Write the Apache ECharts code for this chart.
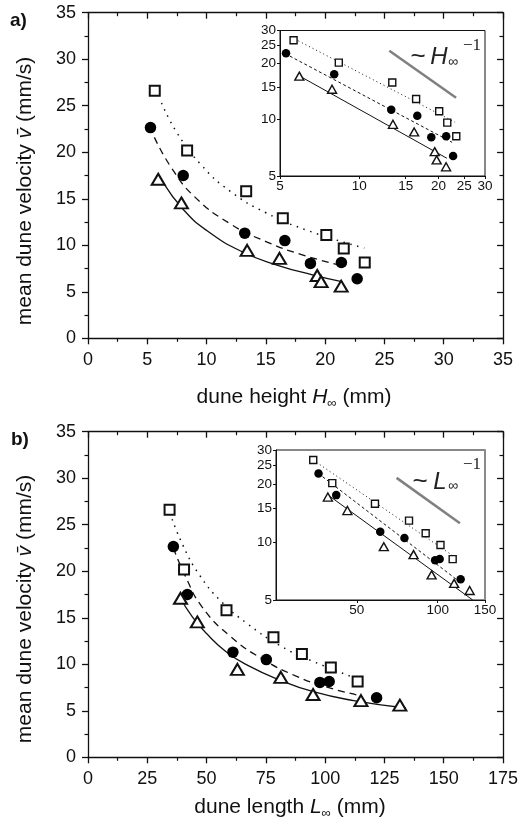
<!DOCTYPE html>
<html>
<head>
<meta charset="utf-8">
<script src="https://cdn.jsdelivr.net/npm/echarts@6/dist/echarts.min.js"></script>
<style>
  html, body { margin: 0; padding: 0; background: #fff; }
  #chart { width: 526px; height: 831px; }
</style>
</head>
<body>
<div id="chart"></div>
<script>
// mean dune velocity (mm/s), same order in both panels
var velSquare = [26.6, 20.2, 15.8, 12.9, 11.1, 9.65, 8.15];
var velCircle = [22.65, 17.5, 11.3, 10.5, 8.05, 8.15, 6.4];
var velTriangle = [17.1, 14.55, 9.45, 8.6, 6.75, 6.1, 5.6];

// dune height H (mm), panel a
var heightSquare = [5.63, 8.36, 13.34, 16.43, 20.1, 21.57, 23.34];
var heightCircle = [5.27, 8.03, 13.22, 16.6, 18.76, 21.37, 22.7];
var heightTriangle = [5.92, 7.88, 13.42, 16.15, 19.33, 19.66, 21.35];

// dune length L (mm), panel b
var lengthSquare = [34.4, 40.5, 58.4, 78.2, 90.2, 102.4, 113.7];
var lengthCircle = [36, 41.9, 61.1, 75.2, 97.8, 101.7, 121.7];
var lengthTriangle = [39, 46.1, 63, 81.3, 94.9, 115.1, 131.5];

// fit curves
var fitDotA_H = [6.2, 7.5, 9.5, 12, 15, 18.5, 23.3];
var fitDotA_v = [25.3, 22.1, 18.7, 15.8, 13.5, 11.6, 9.7];
var fitDashA_H = [5.6, 7, 9, 12, 15, 18, 21.7];
var fitDashA_v = [21.6, 18.4, 15.2, 12.3, 10.4, 9.0, 7.7];
var fitSolidA_H = [6.35, 8, 10, 13, 16, 19, 21.4];
var fitSolidA_v = [16.7, 13.9, 11.6, 9.3, 7.85, 6.8, 6.1];

var fitDotB_L = [34.5, 40, 47, 56, 67, 81, 95, 114];
var fitDotB_v = [26.3, 22.8, 19.6, 16.8, 14.4, 12.0, 10.3, 8.4];
var fitDashB_L = [36, 41, 48, 60, 74, 88, 100, 113.5];
var fitDashB_v = [22.5, 19.5, 16.2, 13.0, 10.5, 8.7, 7.6, 6.7];
var fitSolidB_L = [39, 44, 50, 58.5, 68, 80, 95, 112, 134];
var fitSolidB_v = [17.1, 15.1, 13.3, 11.3, 9.8, 8.4, 7.05, 6.1, 5.3];

// inset (log-log) fit lines and the slope -1 guide
var insetDotA_H = [5.87, 23.1], insetDotA_v = [26.4, 9.69];
var insetDashA_H = [5.22, 22.5], insetDashA_v = [22.6, 7.57];
var insetSolidA_H = [5.9, 21.5], insetSolidA_v = [17.2, 6.22];
var guideA_H = [13.0, 23.3], guideA_v = [23.4, 13.1];

var insetDotB_L = [34.4, 117.7], insetDotB_v = [26.6, 8.22];
var insetDashB_L = [35.9, 120], insetDashB_v = [22.7, 6.25];
var insetSolidB_L = [39.1, 135], insetSolidB_v = [17.5, 5.0];
var guideB_L = [70.3, 121], guideB_v = [21.5, 12.5];

// tick labels
var insetVelTicks = [5, 10, 15, 20, 25, 30];
var insetHeightTicks = [5, 10, 15, 20, 25, 30];
var insetLengthTicks = [50, 100, 150];

function pairs(xs, ys) {
  return xs.map(function (x, i) { return [x, ys[i]]; });
}

var INK = '#111';
var FONT = 'Liberation Sans, Arial, sans-serif';

function mainAxis(gridIndex, pos, max, step, showLabel) {
  return {
    type: 'value', gridIndex: gridIndex, position: pos,
    min: 0, max: max, interval: step,
    axisLine: { show: true, onZero: false, lineStyle: { color: INK, width: 1.3 } },
    axisTick: { show: true, inside: !showLabel, length: 6, lineStyle: { color: INK, width: 1.3 } },
    minorTick: { show: true, splitNumber: 2, length: 3.5, lineStyle: { color: INK, width: 1.2 } },
    axisLabel: { show: showLabel, color: INK, fontSize: 18, fontFamily: FONT, margin: pos === 'bottom' ? 13 : 12 },
    splitLine: { show: false }
  };
}

function insetAxis(gridIndex, pos, min, max, ticks) {
  return {
    type: 'log', logBase: 10, gridIndex: gridIndex, position: pos,
    min: min, max: max,
    axisLine: { show: true, onZero: false, lineStyle: { color: INK, width: 1 } },
    axisTick: { show: true, length: 3, customValues: ticks, lineStyle: { color: INK, width: 1 } },
    axisLabel: { show: true, customValues: ticks, color: INK, fontSize: 13.5, fontFamily: FONT, margin: pos === 'bottom' ? 3 : 4 },
    splitLine: { show: false }
  };
}

function markers(xAxisIndex, yAxisIndex, xs, ys, kind, big) {
  var s = {
    type: 'scatter', xAxisIndex: xAxisIndex, yAxisIndex: yAxisIndex,
    data: pairs(xs, ys), z: 5, silent: true
  };
  if (kind === 'square') {
    s.symbol = 'rect'; s.symbolSize = big ? 10 : 7;
    s.itemStyle = { color: '#fff', borderColor: INK, borderWidth: big ? 2 : 1.4, opacity: 1 };
  } else if (kind === 'circle') {
    s.symbol = 'circle'; s.symbolSize = big ? 11.5 : 8.5;
    s.itemStyle = { color: '#000', opacity: 1 };
  } else {
    s.symbol = 'triangle'; s.symbolSize = big ? [13, 11] : [9, 8];
    s.itemStyle = { color: '#fff', borderColor: INK, borderWidth: big ? 2 : 1.4, opacity: 1 };
  }
  return s;
}

function fit(xAxisIndex, yAxisIndex, xs, ys, dash, width, smooth, color) {
  return {
    type: 'line', xAxisIndex: xAxisIndex, yAxisIndex: yAxisIndex,
    data: pairs(xs, ys), showSymbol: false, smooth: smooth, z: 3, silent: true,
    lineStyle: { color: color || INK, width: width, type: dash, opacity: 1 }
  };
}

function yTitle(x, y) {
  return {
    type: 'text', x: x, y: y, rotation: Math.PI / 2,
    style: {
      text: '{t|mean dune velocity }{i|v\u0304}{t| (mm/s)}',
      align: 'center', verticalAlign: 'middle', fill: INK,
      rich: {
        t: { fontSize: 21, fontFamily: FONT, fill: INK },
        i: { fontSize: 21, fontFamily: FONT, fontStyle: 'italic', fill: INK }
      }
    }
  };
}

function xTitle(x, y, words, sym) {
  return {
    type: 'text', x: x, y: y,
    style: {
      text: '{t|' + words + '}{i|' + sym + '}{s|\u221e}{t| (mm)}',
      align: 'center', verticalAlign: 'middle', fill: INK,
      rich: {
        t: { fontSize: 21, fontFamily: FONT, fill: INK, lineHeight: 26 },
        i: { fontSize: 21, fontFamily: FONT, fontStyle: 'italic', fill: INK, lineHeight: 26 },
        s: { fontSize: 13, fontFamily: FONT, fill: INK, verticalAlign: 'bottom', lineHeight: 26 }
      }
    }
  };
}

function note(x, y, text, size, style, family) {
  return {
    type: 'text', x: x, y: y,
    style: { text: text, fontSize: size, fontStyle: style || 'normal', fontFamily: family || FONT, fill: '#222', align: 'center', verticalAlign: 'middle' }
  };
}

var chart = echarts.init(document.getElementById('chart'), null, { renderer: 'canvas' });

var option = {
  animation: false,
  backgroundColor: '#fff',
  grid: [
    { left: 88, top: 12.7, width: 415, height: 325.6 },
    { left: 280, top: 30.5, width: 205, height: 145.5, show: true, backgroundColor: '#fff', borderColor: INK, borderWidth: 1 },
    { left: 88, top: 431.7, width: 415, height: 325.6 },
    { left: 276, top: 450, width: 209, height: 150, show: true, backgroundColor: '#fff', borderColor: INK, borderWidth: 1 }
  ],
  xAxis: [
    mainAxis(0, 'bottom', 35, 5, true),
    mainAxis(0, 'top', 35, 5, false),
    insetAxis(1, 'bottom', 5, 30, insetHeightTicks),
    mainAxis(2, 'bottom', 175, 25, true),
    mainAxis(2, 'top', 175, 25, false),
    insetAxis(3, 'bottom', 25, 150, insetLengthTicks)
  ],
  yAxis: [
    mainAxis(0, 'left', 35, 5, true),
    mainAxis(0, 'right', 35, 5, false),
    insetAxis(1, 'left', 5, 30, insetVelTicks),
    mainAxis(2, 'left', 35, 5, true),
    mainAxis(2, 'right', 35, 5, false),
    insetAxis(3, 'left', 5, 30, insetVelTicks),
    {
      type: 'log', gridIndex: 3, position: 'right', min: 5, max: 30,
      axisLine: { show: true, lineStyle: { color: '#8a8a8a', width: 2 } },
      axisTick: { show: false }, axisLabel: { show: false }, splitLine: { show: false }
    }
  ],
  series: [
    // panel a, main
    fit(0, 0, fitDotA_H, fitDotA_v, [1.5, 5.5], 1.5, true),
    fit(0, 0, fitDashA_H, fitDashA_v, [7, 5], 1.3, true),
    fit(0, 0, fitSolidA_H, fitSolidA_v, 'solid', 1.3, true),
    markers(0, 0, heightSquare, velSquare, 'square', true),
    markers(0, 0, heightCircle, velCircle, 'circle', true),
    markers(0, 0, heightTriangle, velTriangle, 'triangle', true),
    // panel a, inset
    fit(2, 2, insetDotA_H, insetDotA_v, [1, 3], 1, false),
    fit(2, 2, insetDashA_H, insetDashA_v, [3, 2.5], 1, false),
    fit(2, 2, insetSolidA_H, insetSolidA_v, 'solid', 1, false),
    fit(2, 2, guideA_H, guideA_v, 'solid', 2.5, false, '#808080'),
    markers(2, 2, heightSquare, velSquare, 'square', false),
    markers(2, 2, heightCircle, velCircle, 'circle', false),
    markers(2, 2, heightTriangle, velTriangle, 'triangle', false),
    // panel b, main
    fit(3, 3, fitDotB_L, fitDotB_v, [1.5, 5.5], 1.5, true),
    fit(3, 3, fitDashB_L, fitDashB_v, [7, 5], 1.3, true),
    fit(3, 3, fitSolidB_L, fitSolidB_v, 'solid', 1.3, true),
    markers(3, 3, lengthSquare, velSquare, 'square', true),
    markers(3, 3, lengthCircle, velCircle, 'circle', true),
    markers(3, 3, lengthTriangle, velTriangle, 'triangle', true),
    // panel b, inset
    fit(5, 5, insetDotB_L, insetDotB_v, [1, 3], 1, false),
    fit(5, 5, insetDashB_L, insetDashB_v, [3, 2.5], 1, false),
    fit(5, 5, insetSolidB_L, insetSolidB_v, 'solid', 1, false),
    fit(5, 5, guideB_L, guideB_v, 'solid', 2.5, false, '#808080'),
    markers(5, 5, lengthSquare, velSquare, 'square', false),
    markers(5, 5, lengthCircle, velCircle, 'circle', false),
    markers(5, 5, lengthTriangle, velTriangle, 'triangle', false)
  ],
  graphic: [
    { type: 'text', left: 10, top: 11, style: { text: 'a)', fontSize: 19, fontWeight: 'bold', fontFamily: FONT, fill: INK } },
    { type: 'text', left: 11, top: 430, style: { text: 'b)', fontSize: 19, fontWeight: 'bold', fontFamily: FONT, fill: INK } },
    yTitle(25, 191),
    yTitle(25, 609),
    xTitle(294, 397, 'dune height ', 'H'),
    xTitle(290, 807, 'dune length ', 'L'),
    // ~ H^-1 / ~ L^-1 annotations
    note(418, 57, '~', 26),
    note(439, 57, 'H', 24, 'italic'),
    note(453, 62, '\u221e', 14),
    note(472, 46, '\u22121', 17, 'normal', 'Liberation Serif, serif'),
    note(420, 482, '~', 26),
    note(440, 482, 'L', 24, 'italic'),
    note(453, 486, '\u221e', 14),
    note(472, 465, '\u22121', 17, 'normal', 'Liberation Serif, serif')
  ]
};

chart.setOption(option);
</script>
</body>
</html>
